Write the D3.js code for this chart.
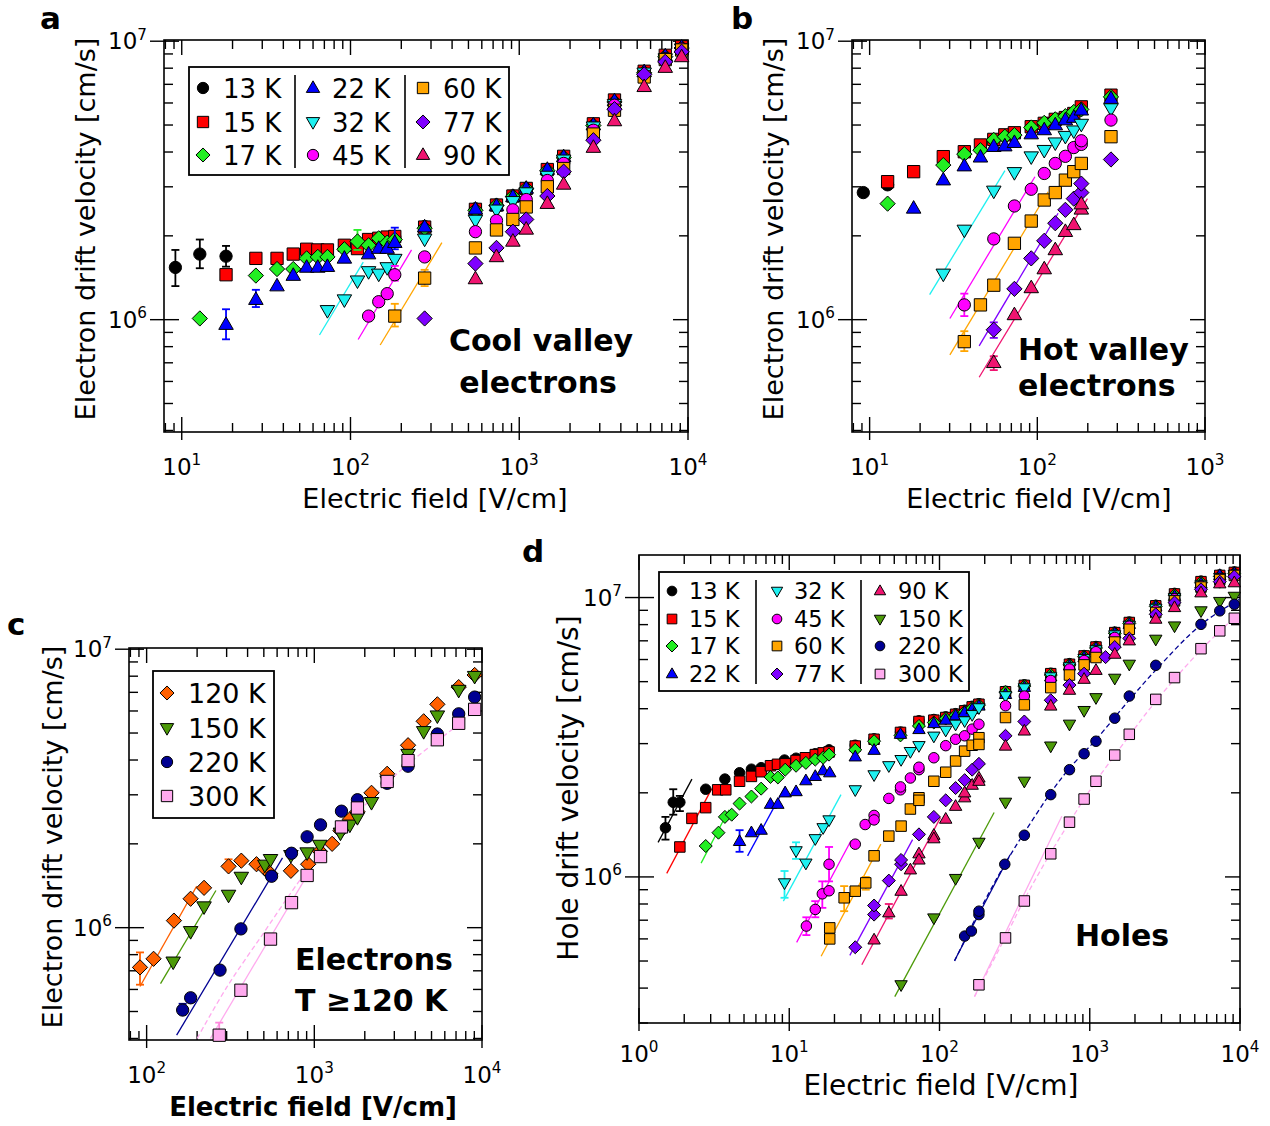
<!DOCTYPE html>
<html><head><meta charset="utf-8">
<script src="https://cdn.jsdelivr.net/npm/d3@7"></script>
<style>body{margin:0;background:#fff}svg{display:block}</style>
</head><body><script>
// ---------- series styles ----------
const tempKeys   = ["13","15","17","22","32","45","60","77","90","120","150","220","300"];
const tempColors = ["#000000","#FF0000","#22EE22","#0000FF","#1EF0F0","#FF00FF","#FFA500","#7F00FF","#F01470","#FF6000","#4C9A08","#000092","#FFAAEE"];
const tempShapes = ["circle","square","diamond","triUp","triDown","circle","square","diamond","triUp","diamond","triDown","circle","square"];

// ---------- panel a : cool valley electrons ----------
const a13 = [[9.17,1.54e6],[12.8,1.72e6],[18.3,1.69e6],[128,1.93e6],[183,1.98e6],[275,2.16e6],[550,2.5e6],[733,2.58e6],[917,2.78e6],[1100,2.96e6],[1467,3.44e6],[1833,3.84e6],[2750,5.0e6],[3667,6.1e6],[5500,7.76e6],[7333,8.84e6],[9167,9.5e6]];
const a15 = [[18.3,1.45e6],[27.5,1.66e6],[36.7,1.66e6],[45.8,1.72e6],[55,1.79e6],[64,1.78e6],[73,1.78e6],[92,1.85e6],[110,1.80e6],[128,1.94e6],[147,1.96e6],[165,1.98e6],[183,1.99e6],[275,2.15e6],[550,2.49e6],[733,2.58e6],[917,2.78e6],[1100,2.96e6],[1467,3.46e6],[1833,3.86e6],[2750,5.05e6],[3667,6.15e6],[5500,7.8e6],[7333,8.9e6],[9167,9.55e6]];
const a17 = [[12.8,1.01e6],[27.5,1.44e6],[36.7,1.52e6],[45.8,1.52e6],[55,1.66e6],[64,1.68e6],[73,1.68e6],[92,1.79e6],[110,1.91e6],[128,1.85e6],[147,1.96e6],[165,1.89e6],[183,1.94e6],[275,2.13e6],[550,2.47e6],[733,2.57e6],[917,2.77e6],[1100,2.95e6],[1467,3.43e6],[1833,3.82e6],[2750,4.98e6],[3667,6.05e6],[5500,7.7e6],[7333,8.8e6],[9167,9.45e6]];
const a22 = [[18.3,9.6e5],[27.5,1.18e6],[36.7,1.32e6],[45.8,1.44e6],[55,1.54e6],[64,1.54e6],[73,1.55e6],[92,1.66e6],[128,1.72e6],[147,1.80e6],[165,1.80e6],[183,1.89e6],[275,2.15e6],[550,2.49e6],[733,2.56e6],[917,2.76e6],[1100,2.96e6],[1467,3.46e6],[1833,3.84e6],[2750,5.0e6],[3667,6.1e6],[5500,7.76e6],[7333,8.84e6],[9167,9.5e6]];
const a32 = [[73,1.08e6],[92,1.18e6],[110,1.38e6],[128,1.49e6],[147,1.46e6],[165,1.54e6],[183,1.65e6],[275,1.95e6],[550,2.28e6],[733,2.48e6],[917,2.66e6],[1100,2.86e6],[1467,3.28e6],[1833,3.75e6],[2750,4.93e6],[3667,5.94e6],[5500,7.7e6],[7333,8.66e6],[9167,9.4e6]];
const a45 = [[128,1.03e6],[147,1.16e6],[165,1.24e6],[183,1.45e6],[275,1.68e6],[550,2.07e6],[733,2.27e6],[917,2.48e6],[1100,2.70e6],[1467,3.16e6],[1833,3.64e6],[2750,4.79e6],[3667,5.89e6],[5500,7.55e6],[7333,8.66e6],[9167,9.4e6]];
const a60 = [[183,1.03e6],[275,1.41e6],[550,1.81e6],[733,2.10e6],[917,2.29e6],[1100,2.54e6],[1467,3.0e6],[1833,3.49e6],[2750,4.64e6],[3667,5.65e6],[5500,7.44e6],[7333,8.59e6],[9167,9.3e6]];
const a77 = [[275,1.01e6],[550,1.59e6],[733,1.81e6],[917,2.07e6],[1100,2.29e6],[1467,2.78e6],[1833,3.4e6],[2750,4.41e6],[3667,5.7e6],[5500,7.6e6],[7333,8.43e6],[9167,9.16e6]];
const a90 = [[550,1.40e6],[733,1.68e6],[917,1.91e6],[1100,2.11e6],[1467,2.61e6],[1833,3.06e6],[2750,4.15e6],[3667,5.17e6],[5500,6.86e6],[7333,8.04e6],[9167,8.78e6]];
const fitsA = [["32",65.5,8.81e5,119,1.61e6],["45",111,8.49e5,230,1.78e6],["60",150,8.11e5,348,1.89e6]];
const errsA = [["13",9.17,1.32e6,1.78e6],["13",12.8,1.53e6,1.94e6],["13",18.3,1.55e6,1.84e6],["22",18.3,8.5e5,1.09e6],["22",27.5,1.11e6,1.28e6],["17",110,1.78e6,2.1e6],["22",183,1.79e6,2.14e6],["45",183,1.38e6,1.56e6],["60",183,9.45e5,1.14e6],["60",275,1.32e6,1.51e6]];
const legendA = [["13","15","17"],["22","32","45"],["60","77","90"]];

// ---------- panel b : hot valley electrons ----------
const b13 = [[9.17,2.86e6],[12.8,3.05e6]];
const b15 = [[12.8,3.13e6],[18.3,3.40e6],[27.5,3.85e6],[36.7,4.01e6],[45.8,4.24e6],[55,4.44e6],[64,4.61e6],[73,4.69e6],[92,4.93e6],[110,5.07e6],[128,5.24e6],[147,5.32e6],[165,5.50e6],[183,5.81e6],[275,6.40e6]];
const b17 = [[12.8,2.61e6],[27.5,3.59e6],[36.7,3.93e6],[45.8,4.06e6],[55,4.42e6],[64,4.54e6],[73,4.6e6],[92,4.9e6],[110,5.09e6],[128,5.24e6],[147,5.38e6],[165,5.57e6],[183,5.69e6],[275,6.31e6]];
const b22 = [[18.3,2.51e6],[27.5,3.17e6],[36.7,3.56e6],[45.8,3.83e6],[55,4.18e6],[64,4.2e6],[73,4.32e6],[92,4.64e6],[110,4.8e6],[128,5.0e6],[147,5.21e6],[165,5.32e6],[183,5.65e6],[275,6.22e6]];
const b32 = [[27.5,1.46e6],[36.7,2.10e6],[55,2.9e6],[73,3.38e6],[92,3.85e6],[110,4.06e6],[128,4.32e6],[147,4.56e6],[165,4.77e6],[183,5.04e6],[275,5.73e6]];
const b45 = [[36.7,1.13e6],[55,1.95e6],[73,2.56e6],[92,2.94e6],[110,3.35e6],[128,3.64e6],[147,3.86e6],[165,4.15e6],[183,4.26e6],[183,4.39e6],[275,5.21e6]];
const b60 = [[36.7,8.34e5],[45.8,1.13e6],[55,1.33e6],[73,1.88e6],[92,2.26e6],[110,2.69e6],[128,2.86e6],[147,3.17e6],[165,3.40e6],[183,3.64e6],[275,4.54e6]];
const b77 = [[55,9.2e5],[73,1.29e6],[92,1.66e6],[110,1.92e6],[128,2.22e6],[147,2.48e6],[165,2.72e6],[183,2.86e6],[183,3.08e6],[275,3.76e6]];
const b90 = [[55,7.0e5],[73,1.04e6],[92,1.30e6],[110,1.52e6],[128,1.78e6],[147,2.07e6],[165,2.19e6],[183,2.49e6],[183,2.6e6]];
const fitsB = [["32",22.8,1.23e6,64.1,3.43e6],["45",30.1,1.01e6,96.8,3.26e6],["60",30.1,7.47e5,116,2.88e6],["77",45,8.05e5,133,2.41e6],["90",45,6.21e5,199,2.72e6]];
const errsB = [["45",36.7,1.03e6,1.24e6],["60",36.7,7.71e5,9.09e5],["77",55,8.6e5,9.78e5],["90",55,6.59e5,7.39e5]];

// ---------- panel c : electrons T >= 120 K ----------
const c120 = [[91.3,7.2e5],[110,7.73e5],[145.5,1.06e6],[183,1.27e6],[220,1.39e6],[308,1.66e6],[367,1.74e6],[452,1.69e6],[507,1.63e6],[548,1.56e6],[725,1.60e6],[919,1.69e6],[1079,1.88e6],[1277,2.0e6],[1432,2.23e6],[1629,2.45e6],[1808,2.61e6],[2193,3.05e6],[2719,3.57e6],[3623,4.52e6],[4490,5.51e6],[5418,6.34e6],[7262,7.31e6],[9040,8.08e6]];
const c150 = [[144,7.54e5],[183,9.7e5],[220,1.19e6],[308,1.31e6],[367,1.52e6],[507,1.68e6],[548,1.76e6],[725,1.82e6],[906,1.86e6],[1079,1.98e6],[1432,2.19e6],[1629,2.34e6],[1808,2.49e6],[2193,2.82e6],[2719,3.37e6],[3623,4.20e6],[4490,5.07e6],[5418,5.77e6],[7262,7.13e6],[9040,8.0e6]];
const c220 = [[164,5.06e5],[183,5.6e5],[274,7.04e5],[365,9.9e5],[556,1.53e6],[731,1.85e6],[906,2.12e6],[1089,2.34e6],[1452,2.62e6],[1808,2.88e6],[2719,3.30e6],[3623,3.80e6],[5418,4.96e6],[7262,5.86e6],[9040,6.73e6]];
const c300 = [[271,4.11e5],[365,5.96e5],[548,9.1e5],[731,1.23e6],[906,1.54e6],[1089,1.80e6],[1452,2.30e6],[1808,2.69e6],[2719,3.35e6],[3623,3.98e6],[5418,4.73e6],[7262,5.42e6],[9040,6.08e6]];
const fitsC = [["120",91.3,6.15e5,199,1.41e6],["150",121,6.3e5,259,1.36e6],["220",151,4.11e5,646,1.78e6],["300",240,4.0e5,1200,2.05e6]];
const dashC300 = [[200,4.0e5],[300,6.1e5],[500,9.6e5],[800,1.45e6],[1100,1.85e6],[1500,2.3e6],[2000,2.75e6],[3000,3.5e6],[4500,4.3e6],[6500,5.1e6],[9000,6.0e6]];
const errsC = [["120",91.3,6.24e5,8.15e5],["220",164,4.9e5,5.33e5],["300",271,3.96e5,4.56e5],["120",308,1.62e6,1.76e6]];
const legendC = [["120","150","220","300"]];

// ---------- panel d : holes ----------
const d13 = [[1.5,1.50e6],[1.69,1.85e6],[1.87,1.85e6],[2.78,2.06e6],[3.73,2.24e6],[4.67,2.36e6],[5.6,2.43e6],[6.5,2.46e6],[9.3,2.62e6],[11.1,2.66e6],[14.9,2.76e6],[18.4,2.85e6],[27.5,2.96e6],[36.7,3.12e6],[55,3.3e6],[73,3.62e6],[91.7,3.66e6],[110,3.74e6],[128,3.84e6],[147,3.95e6],[165,4.08e6],[183,4.17e6],[275,4.62e6],[367,4.87e6],[550,5.36e6],[733,5.8e6],[917,6.2e6],[1100,6.68e6],[1467,7.52e6],[1833,8.17e6],[2750,9.38e6],[3667,1.035e7],[5500,1.145e7],[7333,1.205e7],[9167,1.235e7]];
const d15 = [[1.87,1.28e6],[2.25,1.62e6],[2.78,1.77e6],[3.34,2.05e6],[3.78,2.05e6],[4.67,2.20e6],[5.6,2.29e6],[6.5,2.38e6],[7.5,2.50e6],[8.35,2.53e6],[9.4,2.54e6],[11.1,2.61e6],[12.8,2.67e6],[14.9,2.74e6],[16.8,2.78e6],[18.4,2.80e6],[27.5,2.94e6],[36.7,3.11e6],[55,3.29e6],[73,3.60e6],[91.7,3.64e6],[110,3.72e6],[128,3.82e6],[147,3.93e6],[165,4.06e6],[183,4.15e6],[275,4.60e6],[367,4.85e6],[550,5.34e6],[733,5.77e6],[917,6.18e6],[1100,6.65e6],[1467,7.49e6],[1833,8.14e6],[2750,9.34e6],[3667,1.03e7],[5500,1.14e7],[7333,1.20e7],[9167,1.23e7]];
const d17 = [[2.78,1.29e6],[3.38,1.44e6],[3.73,1.64e6],[4.14,1.67e6],[4.67,1.83e6],[5.6,1.94e6],[6.5,2.07e6],[7.5,2.28e6],[8.4,2.27e6],[9.4,2.42e6],[11.1,2.50e6],[12.9,2.56e6],[14.9,2.63e6],[16.8,2.67e6],[18.4,2.74e6],[27.5,2.85e6],[36.7,3.06e6],[55,3.21e6],[73,3.47e6],[91.7,3.57e6],[110,3.69e6],[128,3.79e6],[147,3.9e6],[165,4.02e6],[183,4.12e6],[275,4.58e6],[367,4.82e6],[550,5.28e6],[733,5.74e6],[917,6.14e6],[1100,6.6e6],[1467,7.45e6],[1833,8.08e6],[2750,9.3e6],[3667,1.02e7],[5500,1.13e7],[7333,1.19e7],[9167,1.22e7]];
const d22 = [[4.67,1.34e6],[5.6,1.44e6],[6.5,1.47e6],[7.5,1.82e6],[8.4,1.82e6],[9.4,2.0e6],[11.1,2.02e6],[12.9,2.21e6],[14.9,2.29e6],[16.8,2.40e6],[18.6,2.36e6],[27.5,2.69e6],[36.7,2.84e6],[55,3.24e6],[73,3.37e6],[91.7,3.54e6],[110,3.64e6],[128,3.77e6],[147,3.88e6],[165,3.98e6],[183,4.09e6],[275,4.5e6],[367,4.77e6],[550,5.20e6],[733,5.69e6],[917,6.10e6],[1100,6.58e6],[1467,7.43e6],[1833,8.02e6],[2750,9.26e6],[3667,1.01e7],[5500,1.12e7],[7333,1.20e7],[9167,1.22e7]];
const d32 = [[9.3,9.52e5],[11.1,1.24e6],[12.9,1.12e6],[14.9,1.37e6],[16.8,1.50e6],[18.4,1.60e6],[27.5,2.05e6],[36.7,2.32e6],[46,2.50e6],[55.5,2.63e6],[64,2.81e6],[73,2.95e6],[91.7,3.19e6],[110,3.35e6],[128,3.52e6],[147,3.62e6],[165,3.81e6],[183,4.03e6],[275,4.45e6],[367,4.75e6],[550,5.2e6],[733,5.65e6],[917,6.05e6],[1100,6.5e6],[1467,7.35e6],[1833,7.95e6],[2750,9.15e6],[3667,1.0e7],[5500,1.11e7],[7333,1.18e7],[9167,1.21e7]];
const d45 = [[13.0,6.67e5],[14.9,7.65e5],[16.6,8.7e5],[18.4,8.92e5],[18.4,1.11e6],[27.5,1.31e6],[32,1.54e6],[36.7,1.66e6],[36.7,1.6e6],[46,1.91e6],[55,2.05e6],[55,2.1e6],[64,2.26e6],[73,2.42e6],[73,2.47e6],[91.7,2.67e6],[110,2.95e6],[128,3.11e6],[147,3.20e6],[165,3.38e6],[183,3.52e6],[275,4.10e6],[367,4.44e6],[550,5.05e6],[733,5.55e6],[917,5.95e6],[1100,6.4e6],[1467,7.2e6],[1833,7.9e6],[2750,9.0e6],[3667,9.9e6],[5500,1.1e7],[7333,1.17e7],[9167,1.2e7]];
const d60 = [[18.6,6.0e5],[18.6,6.57e5],[23.2,8.42e5],[27.5,8.89e5],[32.3,9.52e5],[36.7,1.19e6],[46,1.40e6],[55.5,1.52e6],[64,1.75e6],[73,1.92e6],[73,1.88e6],[91.7,2.20e6],[110,2.37e6],[128,2.60e6],[147,2.82e6],[165,2.96e6],[183,3.15e6],[183,2.98e6],[275,3.72e6],[367,4.13e6],[550,4.76e6],[733,5.28e6],[917,5.74e6],[1100,6.10e6],[1467,6.93e6],[1833,7.70e6],[2750,8.84e6],[3667,9.73e6],[5500,1.09e7],[7333,1.16e7],[9167,1.20e7]];
const d77 = [[27.5,5.6e5],[36.7,7.33e5],[36.7,7.9e5],[46,9.7e5],[55.5,1.11e6],[55.5,1.15e6],[73,1.42e6],[91.7,1.64e6],[110,1.88e6],[128,2.08e6],[147,2.22e6],[165,2.42e6],[183,2.54e6],[275,3.20e6],[367,3.60e6],[550,4.29e6],[733,4.86e6],[917,5.34e6],[1275,6.12e6],[1467,6.65e6],[1833,7.14e6],[2750,8.71e6],[3667,9.6e6],[5500,1.07e7],[7333,1.14e7],[9167,1.19e7]];
const d90 = [[36.7,5.95e5],[46,7.44e5],[55.5,8.89e5],[64,1.06e6],[73,1.21e6],[73,1.15e6],[91.7,1.41e6],[91.7,1.37e6],[110,1.61e6],[128,1.79e6],[147,1.92e6],[147,2.0e6],[165,2.13e6],[183,2.26e6],[183,2.2e6],[275,2.94e6],[367,3.33e6],[550,4.09e6],[733,4.66e6],[917,5.10e6],[1100,5.49e6],[1467,6.27e6],[1833,7.0e6],[2750,8.37e6],[3667,9.21e6],[5500,1.04e7],[7333,1.12e7],[9167,1.13e7]];
const d150 = [[55.5,4.11e5],[91.7,7.13e5],[128,9.87e5],[183,1.33e6],[275,1.85e6],[367,2.20e6],[550,2.94e6],[733,3.52e6],[917,3.94e6],[1100,4.38e6],[1467,5.14e6],[1833,5.77e6],[2750,7.09e6],[3667,7.91e6],[5500,8.96e6],[7333,9.68e6],[9167,1.01e7]];
const d220 = [[147,6.14e5],[163,6.40e5],[183,7.33e5],[183,7.54e5],[272,1.11e6],[367,1.41e6],[550,1.97e6],[733,2.42e6],[917,2.76e6],[1100,3.06e6],[1467,3.70e6],[1833,4.44e6],[2750,5.72e6],[5500,8.02e6],[7333,8.96e6],[9167,9.46e6]];
const d300 = [[183,4.11e5],[275,6.05e5],[367,8.2e5],[550,1.21e6],[733,1.57e6],[917,1.90e6],[1100,2.20e6],[1467,2.73e6],[1833,3.24e6],[2750,4.32e6],[3667,5.17e6],[5500,6.56e6],[7333,7.60e6],[9167,8.43e6]];
const fitsD = [["13",1.34,1.33e6,2.25,2.24e6],["15",1.53,1.03e6,3.05,2.07e6],["17",2.59,1.12e6,3.97,1.74e6],["22",5.28,1.19e6,9.42,2.11e6],["32",9.14,8.19e5,22.1,1.97e6],["45",11.2,5.83e5,25.8,1.35e6],["60",16.3,5.2e5,40.7,1.31e6],["77",25.3,5.24e5,66.2,1.36e6],["90",30.4,4.85e5,101.5,1.63e6],["150",50.4,3.73e5,231,1.70e6],["220",126,5.02e5,295,1.20e6],["300",171,3.73e5,652,1.65e6]];
const dashD220 = [[126,5.0e5],[183,7.5e5],[275,1.12e6],[367,1.44e6],[550,2.0e6],[733,2.45e6],[1100,3.1e6],[1833,4.3e6],[2750,5.5e6],[5500,8.0e6],[9900,9.85e6]];
const dashD300 = [[171,3.73e5],[275,6.1e5],[367,8.3e5],[550,1.22e6],[733,1.57e6],[1100,2.2e6],[1833,3.2e6],[2750,4.25e6],[5500,6.5e6],[9900,8.8e6]];
const errsD = [["13",1.5,1.36e6,1.64e6],["13",1.69,1.67e6,2.06e6],["13",1.87,1.72e6,1.95e6],["22",4.67,1.23e6,1.47e6],["32",9.3,8.42e5,1.05e6],["32",11.1,1.16e6,1.33e6],["45",13,6.19e5,7.17e5],["45",14.9,7.17e5,8.19e5],["45",18.4,9.64e5,1.28e6],["45",16.6,7.75e5,9.64e5],["60",23.2,7.54e5,9.27e5],["60",32.3,9.0e5,1.0e6],["90",46,7.1e5,8.0e5]];
const legendD = [["13","15","17","22"],["32","45","60","77"],["90","150","220","300"]];

// ---------- drawing ----------
const FONT = "'DejaVu Sans', Verdana, sans-serif";
const svg = d3.select("body").append("svg").attr("width",1270).attr("height",1126)
  .style("font-family",FONT);

function styleOf(k){ const i = tempKeys.indexOf(k); return {color: tempColors[i], shape: tempShapes[i]}; }

function sym(shape, s){
  if(shape==="circle"){ const r=s/2; return `M${r},0A${r},${r},0,1,1,${-r},0A${r},${r},0,1,1,${r},0Z`; }
  if(shape==="square"){ const h=s/2; return `M${-h},${-h}H${h}V${h}H${-h}Z`; }
  if(shape==="diamond"){ const d=s*0.62; return `M0,${-d}L${d},0L0,${d}L${-d},0Z`; }
  const L=s*1.18, ht=L*0.866;
  if(shape==="triUp") return `M0,${-ht*0.62}L${L/2},${ht*0.38}L${-L/2},${ht*0.38}Z`;
  return `M0,${ht*0.62}L${L/2},${-ht*0.38}L${-L/2},${-ht*0.38}Z`;
}

function logTicks(dom){
  const out=[]; const lo=Math.floor(Math.log10(dom[0])), hi=Math.ceil(Math.log10(dom[1]));
  for(let e=lo;e<=hi;e++) for(let k=1;k<=9;k++){
    const v=k*Math.pow(10,e);
    if(v>=dom[0]*0.999 && v<=dom[1]*1.001) out.push({v, major:k===1, e});
  }
  return out;
}

function powLabel(g, x, y, e, anchor, fs){
  const t = g.append("text").attr("x",x).attr("y",y).attr("text-anchor",anchor)
    .attr("font-size",fs).attr("fill","#000");
  t.append("tspan").text("10");
  t.append("tspan").attr("dy",-fs*0.42).attr("font-size",fs*0.66).text(String(e));
}

function panel(P){
  const g = svg.append("g");
  const xs = d3.scaleLog().domain(P.xdom).range([P.x0,P.x1]);
  const ys = d3.scaleLog().domain(P.ydom).range([P.y1,P.y0]);
  const line = (x1,y1,x2,y2,w)=>g.append("line").attr("x1",x1).attr("y1",y1).attr("x2",x2).attr("y2",y2)
      .attr("stroke","#000").attr("stroke-width",w||1.4);
  // ticks
  logTicks(P.xdom).forEach(t=>{
    const x=xs(t.v);
    if(t.major){ line(x,P.y1-15,x,P.y1+8); line(x,P.y0,x,P.y0+15); powLabel(g,x,P.y1+P.xlo,t.e,"middle",23); }
    else { line(x,P.y1-9,x,P.y1); line(x,P.y0,x,P.y0+9); }
  });
  logTicks(P.ydom).forEach(t=>{
    const y=ys(t.v);
    if(t.major){ line(P.x0-14,y,P.x0+15,y); line(P.x1-15,y,P.x1,y); powLabel(g,P.x0-17,y+8,t.e,"end",23); }
    else { line(P.x0,y,P.x0+9,y); line(P.x1-9,y,P.x1,y); }
  });
  g.append("rect").attr("x",P.x0).attr("y",P.y0).attr("width",P.x1-P.x0).attr("height",P.y1-P.y0)
    .attr("fill","none").attr("stroke","#000").attr("stroke-width",1.6);
  // titles
  g.append("text").attr("x",P.xtx).attr("y",P.xty).attr("text-anchor","middle")
    .attr("font-size",P.xtfs).attr("font-weight",P.xtbold?"bold":"normal").text("Electric field [V/cm]");
  g.append("text").attr("transform",`translate(${P.ytx},${P.yty}) rotate(-90)`).attr("text-anchor","middle")
    .attr("font-size",P.ytfs).text(P.ytitle);
  g.append("text").attr("x",P.lx).attr("y",P.ly).attr("font-size",31).attr("font-weight","bold").text(P.id);
  // fits
  P.fits.forEach(f=>{
    g.append("line").attr("x1",xs(f[1])).attr("y1",ys(f[2])).attr("x2",xs(f[3])).attr("y2",ys(f[4]))
      .attr("stroke",styleOf(f[0]).color).attr("stroke-width",1.3);
  });
  (P.dashed||[]).forEach(([k,data])=>{
    g.append("path").attr("d",d3.line().x(d=>xs(d[0])).y(d=>ys(d[1])).curve(d3.curveCatmullRom)(data))
      .attr("fill","none").attr("stroke",styleOf(k).color).attr("stroke-width",1.3).attr("stroke-dasharray","5,3");
  });
  // series
  P.series.forEach(([k,data])=>{
    const st=styleOf(k);
    P.errs.filter(e=>e[0]===k).forEach(e=>{
      const x=xs(e[1]), ylo=ys(e[2]), yhi=ys(e[3]);
      const c = st.color==="#FFAAEE" ? "#FF88DD" : st.color;
      g.append("line").attr("x1",x).attr("x2",x).attr("y1",ylo).attr("y2",yhi).attr("stroke",c).attr("stroke-width",1.8);
      g.append("line").attr("x1",x-4).attr("x2",x+4).attr("y1",ylo).attr("y2",ylo).attr("stroke",c).attr("stroke-width",1.8);
      g.append("line").attr("x1",x-4).attr("x2",x+4).attr("y1",yhi).attr("y2",yhi).attr("stroke",c).attr("stroke-width",1.8);
    });
    g.append("g").selectAll("path").data(data).join("path")
      .attr("d",sym(st.shape,P.size))
      .attr("transform",d=>`translate(${xs(d[0])},${ys(d[1])})`)
      .attr("fill",st.color).attr("stroke","#000").attr("stroke-width",1);
  });
  // legend
  const L=P.legend;
  if(L){
    g.append("rect").attr("x",L.x0).attr("y",L.y0).attr("width",L.x1-L.x0).attr("height",L.y1-L.y0)
      .attr("fill","#fff").attr("stroke","#000").attr("stroke-width",1.8);
    L.seps.forEach(x=>line(x,L.y0+8,x,L.y1-7,1.6));
    L.items.forEach((col,ci)=>col.forEach((k,ri)=>{
      const st=styleOf(k);
      g.append("path").attr("d",sym(st.shape,P.size*0.92)).attr("transform",`translate(${L.mx[ci]},${L.rows[ri]})`)
        .attr("fill",st.color).attr("stroke","#000").attr("stroke-width",1);
      g.append("text").attr("x",L.tx[ci]).attr("y",L.rows[ri]+L.fs*0.37).attr("font-size",L.fs).text(k+" K");
    }));
  }
  // annotations
  P.notes.forEach(n=>{
    g.append("text").attr("x",n[0]).attr("y",n[1]).attr("text-anchor",n[2]).attr("font-size",30)
      .attr("font-weight","bold").text(n[3]);
  });
}

panel({id:"a", x0:164,x1:688,y0:40,y1:432, xdom:[7.85,1e4], ydom:[3.95e5,1.01e7], size:12.3, xlo:43,
  series:[["13",a13],["15",a15],["17",a17],["22",a22],["32",a32],["45",a45],["60",a60],["77",a77],["90",a90]],
  fits:fitsA, errs:errsA,
  xtx:435,xty:508,xtfs:27, ytx:95,yty:229,ytfs:27, ytitle:"Electron drift velocity [cm/s]", lx:40,ly:29,
  legend:{x0:189,y0:67,x1:509,y1:175,seps:[295,405],items:legendA,mx:[203,313,423],tx:[223,332,443],rows:[88,122,155],fs:26},
  notes:[[541,351,"middle","Cool valley"],[538,393,"middle","electrons"]]});

panel({id:"b", x0:852,x1:1205,y0:40,y1:432, xdom:[7.85,1e3], ydom:[3.95e5,1.01e7], size:12.3, xlo:43,
  series:[["13",b13],["15",b15],["17",b17],["22",b22],["32",b32],["45",b45],["60",b60],["77",b77],["90",b90]],
  fits:fitsB, errs:errsB,
  xtx:1039,xty:508,xtfs:27, ytx:783,yty:229,ytfs:27, ytitle:"Electron drift velocity [cm/s]", lx:731,ly:29,
  legend:null,
  notes:[[1018,360,"start","Hot valley"],[1018,396,"start","electrons"]]});

panel({id:"c", x0:129,x1:482,y0:648,y1:1040, xdom:[78.5,1e4], ydom:[3.95e5,1.01e7], size:12.3, xlo:43,
  series:[["120",c120],["150",c150],["220",c220],["300",c300]],
  fits:fitsC, errs:errsC, dashed:[["300",dashC300]],
  xtx:313,xty:1116,xtfs:26,xtbold:true, ytx:62,yty:837,ytfs:27, ytitle:"Electron drift velocity [cm/s]", lx:7,ly:635,
  legend:{x0:153,y0:671,x1:274,y1:818,seps:[],items:legendC,mx:[167],tx:[188],rows:[693,728,762,796],fs:27},
  notes:[[295,970,"start","Electrons"],[295,1011,"start","T \u2265120 K"]]});

panel({id:"d", x0:639,x1:1240,y0:555,y1:1023, xdom:[1,1e4], ydom:[3e5,1.42e7], size:10.5, xlo:39,
  series:[["13",d13],["15",d15],["17",d17],["22",d22],["32",d32],["45",d45],["60",d60],["77",d77],["90",d90],["150",d150],["220",d220],["300",d300]],
  fits:fitsD, errs:errsD, dashed:[["220",dashD220],["300",dashD300]],
  xtx:941,xty:1095,xtfs:28, ytx:578,yty:788,ytfs:28, ytitle:"Hole drift velocity [cm/s]", lx:522,ly:562,
  legend:{x0:659,y0:572,x1:969,y1:691,seps:[756,861],items:legendD,mx:[672,777,880],tx:[689,794,898],rows:[591,619,646,674],fs:22.5},
  notes:[[1075,946,"start","Holes"]]});
</script></body></html>
